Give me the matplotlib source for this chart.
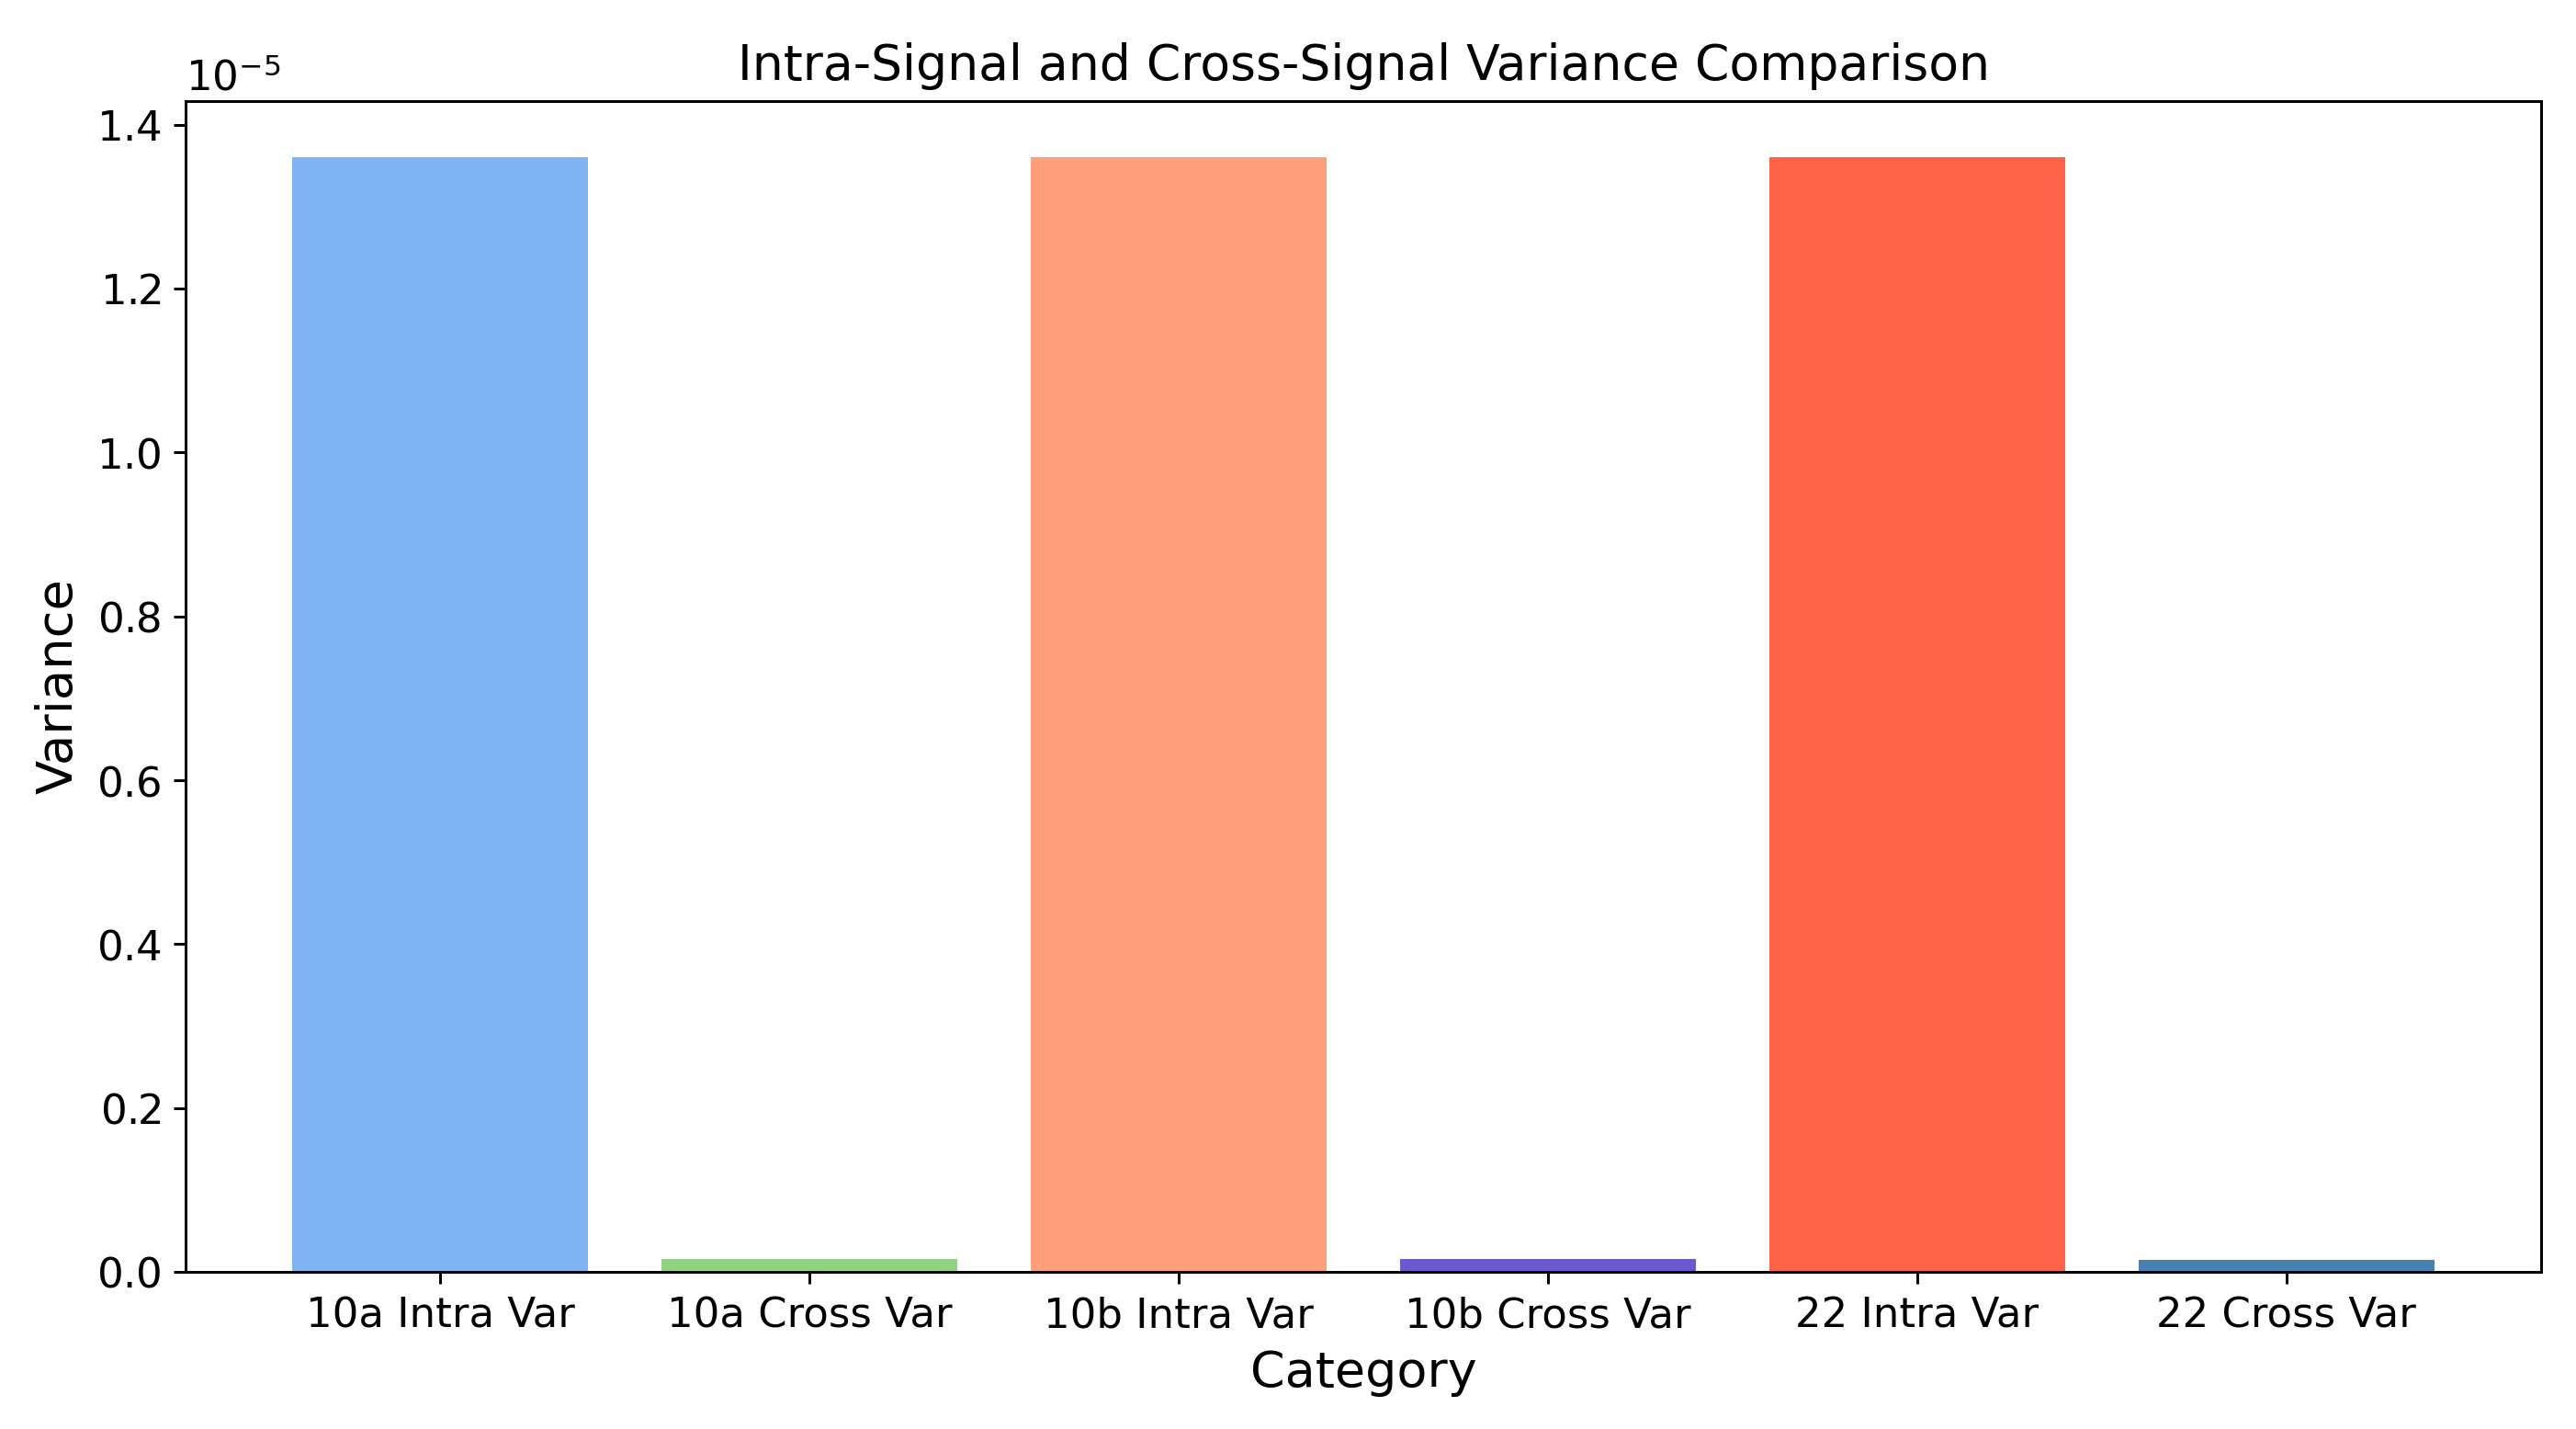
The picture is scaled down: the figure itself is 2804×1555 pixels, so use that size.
import matplotlib
matplotlib.use("Agg")
import matplotlib.pyplot as plt
from matplotlib.ticker import ScalarFormatter

categories = ["10a Intra Var", "10a Cross Var", "10b Intra Var",
              "10b Cross Var", "22 Intra Var", "22 Cross Var"]
values = [1.361e-5, 0.0157e-5, 1.361e-5, 0.0157e-5, 1.360e-5, 0.0146e-5]
colors = ["#80B3F2", "#90D27F", "#FFA07A", "#6A5ACD", "#FF6347", "#4682B4"]


class PlainPowFormatter(ScalarFormatter):
    def get_offset(self):
        if self.orderOfMagnitude == 0:
            return ""
        return r"$\mathdefault{10^{%d}}$" % self.orderOfMagnitude


fig = plt.figure(figsize=(2804 / 270, 1555 / 270), dpi=270)
ax = fig.add_axes([0.0720, 0.110, 0.9145, 0.8193])
ax.bar(categories, values, color=colors)
ax.set_title("Intra-Signal and Cross-Signal Variance Comparison", fontsize=14.3)
ax.set_xlabel("Category", fontsize=14.4)
ax.set_ylabel("Variance", fontsize=14.5)
ax.tick_params(labelsize=12)
fmt = PlainPowFormatter(useMathText=True)
fmt.set_powerlimits((0, 0))
ax.yaxis.set_major_formatter(fmt)
ax.yaxis.get_offset_text().set_fontsize(12)
fig.savefig("out.png", dpi=270)
